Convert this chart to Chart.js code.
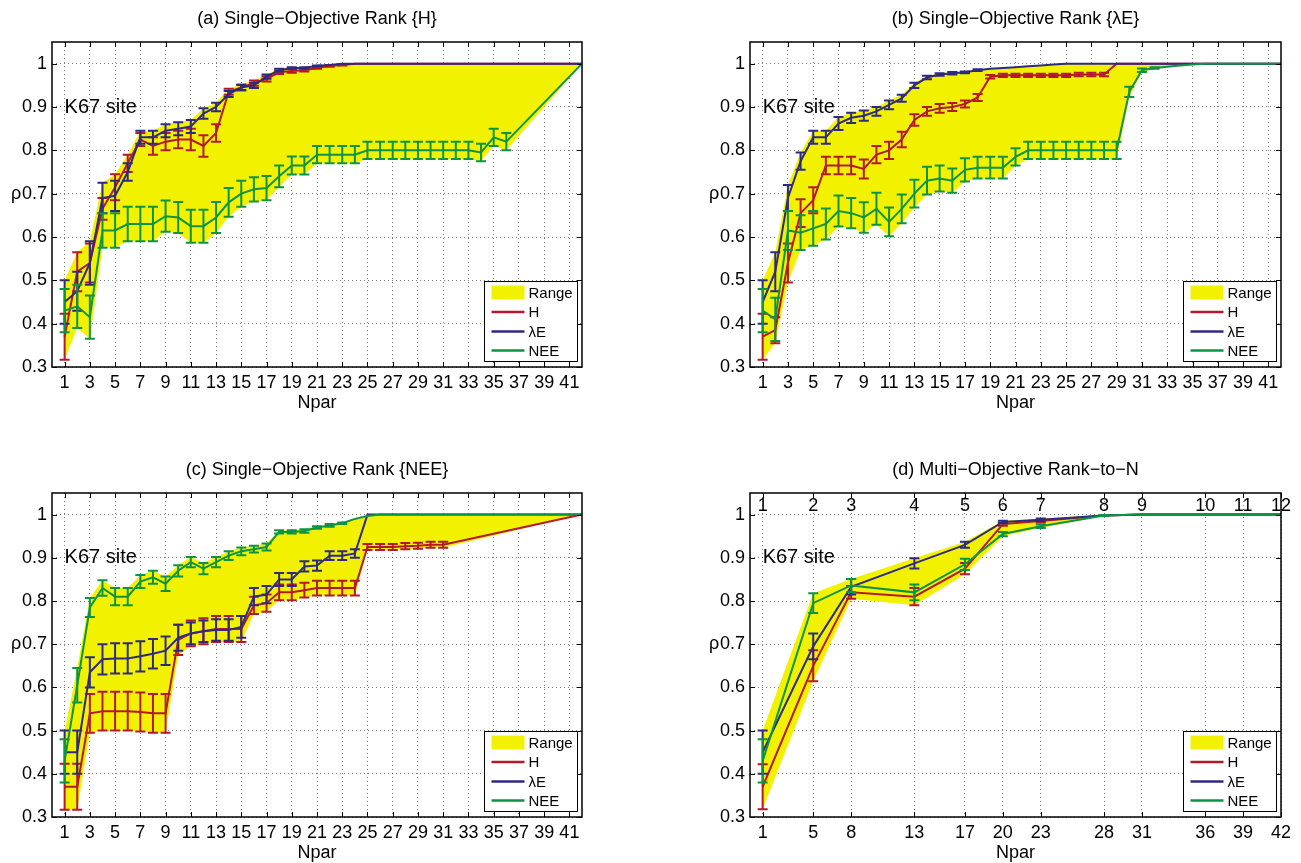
<!DOCTYPE html>
<html>
<head>
<meta charset="utf-8">
<title>Rank curves vs Npar</title>
<script src="https://cdn.jsdelivr.net/npm/chart.js@4.4.1/dist/chart.umd.min.js"></script>
<style>
  body { margin: 0; background: #fff; }
  .page { position: relative; width: 1301px; height: 863px; overflow: hidden; }
  .page canvas { position: absolute; }
</style>
</head>
<body>
<div class="page">
  <canvas id="panelA" width="650" height="431" style="left:0;top:0"></canvas>
  <canvas id="panelB" width="651" height="431" style="left:650px;top:0"></canvas>
  <canvas id="panelC" width="650" height="432" style="left:0;top:431px"></canvas>
  <canvas id="panelD" width="651" height="432" style="left:650px;top:431px"></canvas>
</div>
<script>
// Npar values and tick labels
const nparSingle = [1, 2, 3, 4, 5, 6, 7, 8, 9, 10, 11, 12, 13, 14, 15, 16, 17, 18, 19, 20, 21,
  22, 23, 24, 25, 26, 27, 28, 29, 30, 31, 32, 33, 34, 35, 36, 37, 38, 39, 40, 41, 42];
const singleTicks = [1, 3, 5, 7, 9, 11, 13, 15, 17, 19, 21, 23, 25, 27, 29, 31, 33, 35, 37, 39, 41];
const nparMulti = [1, 5, 8, 13, 17, 20, 23, 28, 31, 36, 39, 42];
const multiRankLabels = ["1", "2", "3", "4", "5", "6", "7", "8", "9", "10", "11", "12"];
const rhoTicks = [0.3, 0.4, 0.5, 0.6, 0.7, 0.8, 0.9, 1];
const siteName = "K67 site";
const seriesNames = ["H", "λE", "NEE"];

// (a) ranked by H
const hA = [0.37, 0.52, 0.54, 0.665, 0.715, 0.77, 0.825, 0.81, 0.82, 0.825,
  0.825, 0.81, 0.84, 0.935, 0.945, 0.955, 0.965, 0.98, 0.983, 0.985,
  0.99, 0.995, 0.997, 1, 1, 1, 1, 1, 1, 1,
  1, 1, 1, 1, 1, 1, 1, 1, 1, 1,
  1, 1];
const hAErr = [0.053, 0.045, 0.045, 0.025, 0.03, 0.02, 0.015, 0.02, 0.02, 0.02,
  0.025, 0.025, 0.02, 0.007, 0.007, 0.006, 0.006, 0.004, 0.004, 0.003,
  0.002, 0.002, 0.001];
const leA = [0.45, 0.475, 0.54, 0.69, 0.695, 0.75, 0.83, 0.83, 0.845, 0.85,
  0.855, 0.885, 0.9, 0.93, 0.945, 0.95, 0.97, 0.985, 0.99, 0.99,
  0.995, 0.997, 1, 1, 1, 1, 1, 1, 1, 1,
  1, 1, 1, 1, 1, 1, 1, 1, 1, 1,
  1, 1];
const leAErr = [0.05, 0.045, 0.05, 0.035, 0.035, 0.02, 0.015, 0.015, 0.015, 0.015,
  0.015, 0.012, 0.01, 0.007, 0.006, 0.006, 0.005, 0.003, 0.002, 0.002, 0.001];
const neeA = [0.43, 0.44, 0.415, 0.615, 0.615, 0.63, 0.63, 0.63, 0.648, 0.645,
  0.625, 0.625, 0.645, 0.68, 0.7, 0.71, 0.713, 0.74, 0.765, 0.765,
  0.79, 0.79, 0.79, 0.79, 0.8, 0.8, 0.8, 0.8, 0.8, 0.8,
  0.8, 0.8, 0.8, 0.795, 0.83, 0.82, null, null, null, null,
  null, 1];
const neeAErr = [0.05, 0.05, 0.05, 0.04, 0.04, 0.04, 0.04, 0.04, 0.036, 0.036,
  0.038, 0.038, 0.036, 0.033, 0.03, 0.028, 0.028, 0.025, 0.021, 0.021,
  0.02, 0.02, 0.02, 0.02, 0.02, 0.02, 0.02, 0.02, 0.02, 0.02,
  0.02, 0.02, 0.02, 0.02, 0.02, 0.02];

// (b) ranked by λE
const hB = [0.37, 0.385, 0.54, 0.655, 0.685, 0.765, 0.765, 0.765, 0.757, 0.79,
  0.8, 0.825, 0.87, 0.89, 0.897, 0.9, 0.907, 0.922, 0.97, 0.973,
  0.973, 0.973, 0.973, 0.973, 0.973, 0.975, 0.975, 0.975, 1, 1,
  1, 1, 1, 1, 1, 1, 1, 1, 1, 1,
  1, 1];
const hBErr = [0.053, 0.03, 0.045, 0.032, 0.03, 0.02, 0.02, 0.02, 0.022, 0.02,
  0.02, 0.018, 0.013, 0.01, 0.01, 0.009, 0.008, 0.008, 0.004, 0.004,
  0.004, 0.004, 0.004, 0.004, 0.004, 0.004, 0.004, 0.004];
const leB = [0.45, 0.52, 0.69, 0.775, 0.83, 0.83, 0.862, 0.875, 0.88, 0.89,
  0.905, 0.92, 0.95, 0.968, 0.975, 0.978, 0.98, 0.985, 0.988, 0.99,
  0.992, 0.994, 0.996, 0.998, 1, 1, 1, 1, 1, 1,
  1, 1, 1, 1, 1, 1, 1, 1, 1, 1,
  1, 1];
const leBErr = [0.05, 0.045, 0.03, 0.02, 0.015, 0.015, 0.015, 0.012, 0.012, 0.01,
  0.01, 0.008, 0.006, 0.004, 0.003, 0.003, 0.002, 0.002];
const neeB = [0.43, 0.41, 0.615, 0.61, 0.62, 0.63, 0.66, 0.655, 0.645, 0.665,
  0.635, 0.665, 0.7, 0.73, 0.735, 0.73, 0.755, 0.76, 0.76, 0.76,
  0.785, 0.8, 0.8, 0.8, 0.8, 0.8, 0.8, 0.8, 0.8, 0.935,
  0.985, 0.99, 0.993, 0.996, 0.998, 1, 1, 1, 1, 1,
  1, 1];
const neeBErr = [0.05, 0.05, 0.045, 0.04, 0.04, 0.036, 0.036, 0.035, 0.035, 0.037,
  0.033, 0.033, 0.032, 0.032, 0.03, 0.028, 0.027, 0.025, 0.025, 0.025,
  0.02, 0.02, 0.02, 0.02, 0.02, 0.02, 0.02, 0.02, 0.02, 0.012,
  0.004, 0.002];

// (c) ranked by NEE
const hC = [0.37, 0.37, 0.54, 0.545, 0.545, 0.545, 0.543, 0.54, 0.54, 0.71,
  0.725, 0.73, 0.735, 0.735, 0.735, 0.79, 0.795, 0.82, 0.82, 0.825,
  0.83, 0.83, 0.83, 0.83, 0.925, 0.925, 0.925, 0.927, 0.928, 0.93,
  0.93, null, null, null, null, null, null, null, null, null,
  null, 1];
const hCErr = [0.053, 0.053, 0.045, 0.045, 0.045, 0.045, 0.045, 0.045, 0.045, 0.035,
  0.03, 0.03, 0.03, 0.03, 0.03, 0.02, 0.02, 0.018, 0.018, 0.017,
  0.017, 0.017, 0.017, 0.017, 0.007, 0.007, 0.007, 0.007, 0.007, 0.007,
  0.007];
const leC = [0.45, 0.45, 0.635, 0.665, 0.667, 0.667, 0.672, 0.678, 0.685, 0.715,
  0.725, 0.73, 0.733, 0.733, 0.74, 0.81, 0.815, 0.85, 0.85, 0.88,
  0.882, 0.905, 0.905, 0.91, 1, 1, 1, 1, 1, 1,
  1, 1, 1, 1, 1, 1, 1, 1, 1, 1,
  1, 1];
const leCErr = [0.05, 0.05, 0.035, 0.035, 0.035, 0.035, 0.035, 0.034, 0.033, 0.03,
  0.025, 0.025, 0.025, 0.025, 0.025, 0.02, 0.02, 0.015, 0.015, 0.012,
  0.012, 0.01, 0.01, 0.01];
const neeC = [0.43, 0.605, 0.785, 0.83, 0.81, 0.81, 0.845, 0.855, 0.84, 0.87,
  0.89, 0.875, 0.89, 0.905, 0.915, 0.92, 0.925, 0.96, 0.96, 0.962,
  0.97, 0.975, 0.98, 0.99, 0.997, 1, 1, 1, 1, 1,
  1, 1, 1, 1, 1, 1, 1, 1, 1, 1,
  1, 1];
const neeCErr = [0.05, 0.04, 0.022, 0.018, 0.02, 0.02, 0.015, 0.015, 0.017, 0.013,
  0.012, 0.013, 0.012, 0.01, 0.009, 0.008, 0.008, 0.004, 0.004, 0.004,
  0.003, 0.003, 0.002];

// (d) multi-objective rank
const hD = [0.37, 0.65, 0.82, 0.81, 0.875, 0.978, 0.985, 0.998, 1, 1, 1, 1];
const hDErr = [0.052, 0.036, 0.015, 0.02, 0.013, 0.004, 0.003, 0.001];
const leD = [0.45, 0.695, 0.833, 0.887, 0.93, 0.983, 0.988, 0.998, 1, 1, 1, 1];
const leDErr = [0.05, 0.03, 0.018, 0.012, 0.007, 0.003, 0.003, 0.001];
const neeD = [0.43, 0.795, 0.836, 0.82, 0.885, 0.955, 0.973, 0.998, 1, 1, 1, 1];
const neeDErr = [0.05, 0.023, 0.015, 0.018, 0.013, 0.005, 0.004, 0.001];

const FONT = '"Liberation Sans", Arial, Helvetica, sans-serif';
const colors = ["#b3182d", "#2e2a80", "#0c9444"];
const rangeColor = "#f2f200";

Chart.defaults.font.family = FONT;
Chart.defaults.color = "#000";

// Error bars, frame, labels and legend drawn on top of each panel
const panelDecor = {
  id: "panelDecor",
  afterDatasetDraw(chart, args) {
    const ds = chart.data.datasets[args.index];
    if (!ds.errs) return;
    const { ctx, chartArea: a, scales: { x, y } } = chart;
    ctx.save();
    ctx.beginPath();
    ctx.rect(a.left, a.top, a.right - a.left, a.bottom - a.top);
    ctx.clip();
    ctx.strokeStyle = ds.borderColor;
    ctx.lineWidth = 2;
    ds.xs.forEach((xv, i) => {
      const v = ds.ys[i];
      const e = ds.errs[i] || 0;
      if (v === null || !e) return;
      const px = x.getPixelForValue(xv);
      const top = y.getPixelForValue(v + e);
      const bot = y.getPixelForValue(v - e);
      ctx.beginPath();
      ctx.moveTo(px, top); ctx.lineTo(px, bot);
      ctx.moveTo(px - 5, top); ctx.lineTo(px + 5, top);
      ctx.moveTo(px - 5, bot); ctx.lineTo(px + 5, bot);
      ctx.stroke();
    });
    ctx.restore();
  },
  afterDraw(chart, args, opts) {
    const { ctx, chartArea: a, scales: { x, y } } = chart;
    const cx = (a.left + a.right) / 2;
    ctx.save();

    // inward tick marks on all four sides
    ctx.strokeStyle = "#000";
    ctx.lineWidth = 1;
    ctx.beginPath();
    x.ticks.forEach((t) => {
      const px = Math.round(x.getPixelForValue(t.value)) + 0.5;
      ctx.moveTo(px, a.bottom); ctx.lineTo(px, a.bottom - 5);
      ctx.moveTo(px, a.top); ctx.lineTo(px, a.top + 5);
    });
    y.ticks.forEach((t) => {
      const py = Math.round(y.getPixelForValue(t.value)) + 0.5;
      ctx.moveTo(a.left, py); ctx.lineTo(a.left + 5, py);
      ctx.moveTo(a.right, py); ctx.lineTo(a.right - 5, py);
    });
    ctx.stroke();
    ctx.lineWidth = 1.5;
    ctx.strokeRect(a.left, a.top, a.right - a.left, a.bottom - a.top);

    // title, axis names and site tag
    ctx.fillStyle = "#000";
    ctx.textAlign = "center";
    ctx.textBaseline = "middle";
    ctx.font = "18px " + FONT;
    ctx.fillText(opts.title, cx, a.top - 23);
    ctx.fillText("Npar", cx, a.bottom + 36);
    ctx.fillText("ρ", a.left - 36, y.getPixelForValue(0.7));
    ctx.textAlign = "left";
    ctx.font = "20px " + FONT;
    ctx.fillText(siteName, x.getPixelForValue(1), y.getPixelForValue(0.9));

    // rank numbers along the top of the multi-objective panel
    if (opts.topLabels) {
      ctx.textAlign = "center";
      ctx.font = "18px " + FONT;
      opts.topValues.forEach((v, i) => {
        ctx.fillText(opts.topLabels[i], x.getPixelForValue(v), a.top + 13);
      });
    }

    // legend box in the lower right corner
    const lw = 93, lh = 80;
    const lx = Math.round(a.right - 5 - lw) + 0.5;
    const ly = Math.round(a.bottom - 6 - lh) + 0.5;
    ctx.fillStyle = "#fff";
    ctx.fillRect(lx, ly, lw, lh);
    ctx.strokeStyle = "#000";
    ctx.lineWidth = 1;
    ctx.strokeRect(lx, ly, lw, lh);
    const rows = [11, 30.5, 50, 69];
    ctx.fillStyle = rangeColor;
    ctx.fillRect(lx + 7, ly + rows[0] - 7, 33, 14);
    ctx.lineWidth = 2.5;
    seriesNames.forEach((name, k) => {
      ctx.strokeStyle = colors[k];
      ctx.beginPath();
      ctx.moveTo(lx + 7, ly + rows[k + 1]);
      ctx.lineTo(lx + 40, ly + rows[k + 1]);
      ctx.stroke();
    });
    ctx.fillStyle = "#000";
    ctx.textAlign = "left";
    ctx.font = "15px " + FONT;
    ["Range"].concat(seriesNames).forEach((name, k) => {
      ctx.fillText(name, lx + 44, ly + rows[k] + 1);
    });
    ctx.restore();
  },
};

function createPanel(p) {
  const canvas = document.getElementById(p.id);
  const W = canvas.width, H = canvas.height;

  // Range band: envelope of the error bars where all three series exist
  const lo = [], hi = [];
  p.x.forEach((xv, i) => {
    if (p.series.some((s) => s[i] === null)) return;
    lo.push({ x: xv, y: Math.min(...p.series.map((s, k) => s[i] - (p.errs[k][i] || 0))) });
    hi.push({ x: xv, y: Math.max(...p.series.map((s, k) => s[i] + (p.errs[k][i] || 0))) });
  });

  const datasets = [
    { label: "RangeLow", data: lo, borderColor: "rgba(0,0,0,0)", borderWidth: 0, pointRadius: 0, fill: false, order: 5 },
    { label: "Range", data: hi, borderColor: "rgba(0,0,0,0)", borderWidth: 0, pointRadius: 0,
      backgroundColor: rangeColor, fill: "-1", order: 4 },
  ];
  p.series.forEach((s, k) => {
    datasets.push({
      label: seriesNames[k],
      data: p.x.map((xv, i) => ({ x: xv, y: s[i] })).filter((pt) => pt.y !== null),
      borderColor: colors[k],
      borderWidth: 2,
      pointRadius: 0,
      tension: 0,
      fill: false,
      order: 3 - k,
      xs: p.x,
      ys: s,
      errs: p.errs[k],
    });
  });

  const gridStyle = { color: "rgba(0,0,0,0.5)", lineWidth: 1, drawTicks: false };

  new Chart(canvas.getContext("2d"), {
    type: "line",
    data: { datasets },
    plugins: [panelDecor],
    options: {
      responsive: false,
      animation: false,
      events: [],
      layout: { padding: { left: 0, top: p.box.top, right: W - p.box.right, bottom: 0 } },
      plugins: {
        legend: { display: false },
        tooltip: { enabled: false },
        panelDecor: { title: p.title, topLabels: p.topLabels || null, topValues: p.x },
      },
      scales: {
        x: {
          type: "linear",
          min: 0,
          max: 42,
          afterBuildTicks: (s) => { s.ticks = p.xTicks.map((v) => ({ value: v })); },
          afterFit: (s) => { s.height = H - p.box.bottom; },
          grid: gridStyle,
          border: { display: false, dash: [1, 3] },
          ticks: { font: { size: 18 }, padding: 5, maxRotation: 0, autoSkip: false },
        },
        y: {
          min: 0.3,
          max: 1.05,
          afterBuildTicks: (s) => { s.ticks = rhoTicks.map((v) => ({ value: v })); },
          afterFit: (s) => { s.width = p.box.left; },
          grid: gridStyle,
          border: { display: false, dash: [1, 3] },
          ticks: {
            font: { size: 18 },
            padding: 5,
            callback: (v) => (v === 1 ? "1" : v.toFixed(1)),
          },
        },
      },
    },
  });
}

const panels = [
  { id: "panelA", title: "(a) Single−Objective Rank {H}", x: nparSingle, xTicks: singleTicks,
    series: [hA, leA, neeA], errs: [hAErr, leAErr, neeAErr],
    box: { left: 52, top: 42, right: 582, bottom: 367 } },
  { id: "panelB", title: "(b) Single−Objective Rank {λE}", x: nparSingle, xTicks: singleTicks,
    series: [hB, leB, neeB], errs: [hBErr, leBErr, neeBErr],
    box: { left: 100, top: 42, right: 631, bottom: 367 } },
  { id: "panelC", title: "(c) Single−Objective Rank {NEE}", x: nparSingle, xTicks: singleTicks,
    series: [hC, leC, neeC], errs: [hCErr, leCErr, neeCErr],
    box: { left: 52, top: 62, right: 582, bottom: 386 } },
  { id: "panelD", title: "(d) Multi−Objective Rank−to−N", x: nparMulti, xTicks: nparMulti,
    series: [hD, leD, neeD], errs: [hDErr, leDErr, neeDErr], topLabels: multiRankLabels,
    box: { left: 100, top: 62, right: 631, bottom: 386 } },
];

panels.forEach(createPanel);
</script>
</body>
</html>
